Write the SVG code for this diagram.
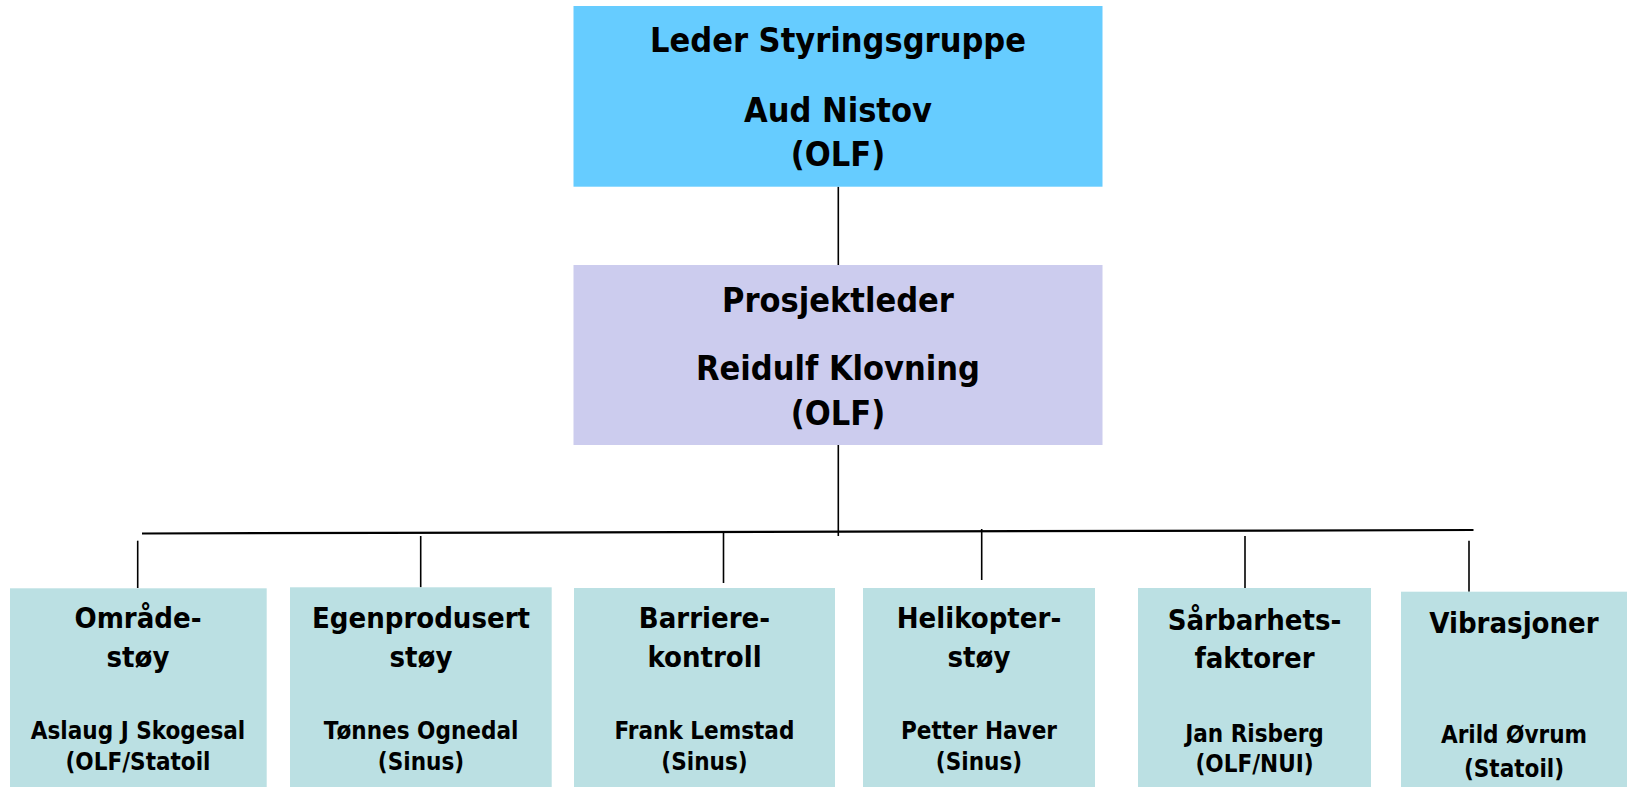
<svg xmlns="http://www.w3.org/2000/svg" width="1627" height="787" viewBox="0 0 1627 787">
<style>
text{font-family:"DejaVu Sans Condensed","DejaVu Sans",sans-serif;font-stretch:condensed;font-weight:bold;fill:#000;text-anchor:middle}
.t1{font-size:34px}
.t2{font-size:29px}
.t3{font-size:24px}
.top{fill:#66CCFF}
.mid{fill:#CCCCEE}
.leaf{fill:#BBE0E3}
.ln{stroke:#000;stroke-width:1.6;fill:none}
.hl{stroke:#000;stroke-width:2.2;fill:none}
</style>
<rect width="1627" height="787" fill="#fff"/>
<g id="connectors">
<line class="ln" x1="838.3" y1="186.7" x2="838.3" y2="265"/>
<line class="ln" x1="838.3" y1="445" x2="838.3" y2="536"/>
<line class="hl" x1="142" y1="533.5" x2="1473.5" y2="530"/>
<line class="ln" x1="137.7" y1="540.7" x2="137.7" y2="588"/>
<line class="ln" x1="420.7" y1="536" x2="420.7" y2="587.3"/>
<line class="ln" x1="723.5" y1="532" x2="723.5" y2="583"/>
<line class="ln" x1="981.7" y1="529" x2="981.7" y2="580"/>
<line class="ln" x1="1245" y1="536" x2="1245" y2="588"/>
<line class="ln" x1="1469" y1="540.7" x2="1469" y2="591.7"/>
</g>
<g id="leder">
<rect class="top" x="573.5" y="6" width="529" height="180.7"/>
<text class="t1" x="838" y="51.7">Leder Styringsgruppe</text>
<text class="t1" x="838" y="121.7">Aud Nistov</text>
<text class="t1" x="838" y="166">(OLF)</text>
</g>
<g id="prosjektleder">
<rect class="mid" x="573.5" y="265" width="529" height="180"/>
<text class="t1" x="838" y="311.7">Prosjektleder</text>
<text class="t1" x="838" y="380">Reidulf Klovning</text>
<text class="t1" x="838" y="425">(OLF)</text>
</g>
<g id="omradestoy">
<rect class="leaf" x="10" y="588.3" width="256.7" height="198.7"/>
<text class="t2" x="138" y="628.3">Område-</text>
<text class="t2" x="138" y="667.3">støy</text>
<text class="t3" x="138" y="739.3">Aslaug J Skogesal</text>
<text class="t3" x="138" y="770">(OLF/Statoil</text>
</g>
<g id="egenprodusert">
<rect class="leaf" x="290" y="587.3" width="261.7" height="199.7"/>
<text class="t2" x="421" y="628.3">Egenprodusert</text>
<text class="t2" x="421" y="667.3">støy</text>
<text class="t3" x="421" y="739.3">Tønnes Ognedal</text>
<text class="t3" x="421" y="770">(Sinus)</text>
</g>
<g id="barriere">
<rect class="leaf" x="574" y="588" width="261" height="199"/>
<text class="t2" x="704.5" y="628.3">Barriere-</text>
<text class="t2" x="704.5" y="667.3">kontroll</text>
<text class="t3" x="704.5" y="739.3">Frank Lemstad</text>
<text class="t3" x="704.5" y="770">(Sinus)</text>
</g>
<g id="helikopter">
<rect class="leaf" x="863" y="588" width="232" height="199"/>
<text class="t2" x="979" y="628.3">Helikopter-</text>
<text class="t2" x="979" y="667.3">støy</text>
<text class="t3" x="979" y="739.3">Petter Haver</text>
<text class="t3" x="979" y="770">(Sinus)</text>
</g>
<g id="sarbarhet">
<rect class="leaf" x="1138" y="588" width="233" height="199"/>
<text class="t2" x="1254.5" y="629.5">Sårbarhets-</text>
<text class="t2" x="1254.5" y="668">faktorer</text>
<text class="t3" x="1254.5" y="741.5">Jan Risberg</text>
<text class="t3" x="1254.5" y="771.5">(OLF/NUI)</text>
</g>
<g id="vibrasjoner">
<rect class="leaf" x="1401" y="591.7" width="226" height="195.3"/>
<text class="t2" x="1514" y="632.7">Vibrasjoner</text>
<text class="t3" x="1514" y="743.3">Arild Øvrum</text>
<text class="t3" x="1514" y="776.7">(Statoil)</text>
</g>
</svg>
